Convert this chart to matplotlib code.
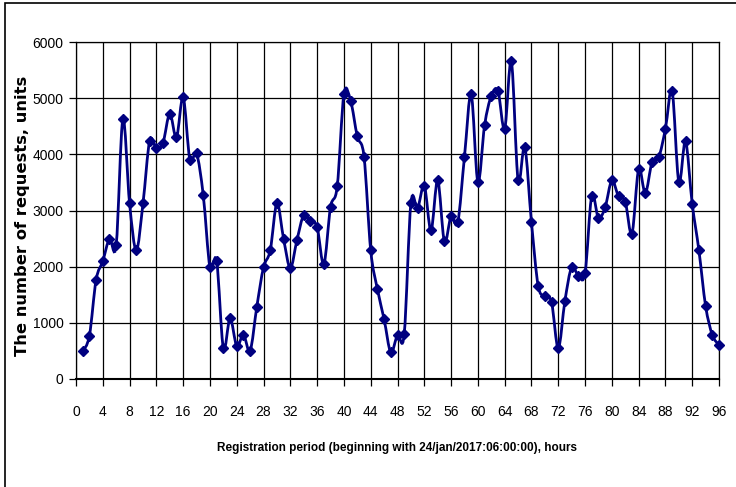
import numpy as np
import matplotlib
matplotlib.use("Agg")
import matplotlib.pyplot as plt
from matplotlib.path import Path
from matplotlib.patches import PathPatch, Rectangle

# hourly request counts (hours 1..96)
hours = list(range(1, 97))
requests = [
    490, 770, 1765, 2100, 2495, 2390, 4630, 3125, 2290, 3125,
    4240, 4110, 4210, 4725, 4300, 5015, 3905, 4015, 3270, 1990,
    2100, 550, 1080, 590, 785, 505, 1290, 1990, 2290, 3130,
    2490, 1975, 2480, 2920, 2815, 2705, 2045, 3060, 3430, 5070,
    4955, 4320, 3960, 2290, 1600, 1065, 475, 785, 800, 3130,
    3045, 3440, 2645, 3535, 2450, 2895, 2790, 3960, 5070, 3505,
    4515, 5040, 5130, 4450, 5655, 3545, 4130, 2790, 1660, 1470,
    1365, 550, 1395, 1990, 1840, 1885, 3265, 2865, 3055, 3535,
    3250, 3160, 2585, 3735, 3310, 3860, 3945, 4455, 5130, 3505,
    4230, 3120, 2290, 1300, 785, 605,
]
x_ticks = list(range(0, 97, 4))
y_ticks = list(range(0, 6001, 1000))

plt.rcParams['font.family'] = ['Liberation Sans', 'DejaVu Sans']

fig = plt.figure(figsize=(7.36, 4.87), dpi=100)
ax = fig.add_axes([76 / 736, 1 - 379 / 487, (719 - 76) / 736, (379 - 42) / 487])

# outer chart border (cut off at the right and bottom like the original)
fig.patches.append(Rectangle((5 / 736, -0.05), 1.1, 1 - 3 / 487 + 0.05,
                             transform=fig.transFigure, fill=False,
                             edgecolor='black', linewidth=1.2))

# smoothed line (Bezier through the points, like a spreadsheet "smoothed line")
pts = np.column_stack([hours, requests]).astype(float)
verts = [pts[0]]
codes = [Path.MOVETO]
n = len(pts)
for i in range(n - 1):
    p0 = pts[max(i - 1, 0)]
    p1 = pts[i]
    p2 = pts[i + 1]
    p3 = pts[min(i + 2, n - 1)]
    verts += [p1 + (p2 - p0) / 6, p2 - (p3 - p1) / 6, p2]
    codes += [Path.CURVE4] * 3
ax.add_patch(PathPatch(Path(verts, codes), facecolor='none',
                       edgecolor='#000080', linewidth=2, zorder=3,
                       clip_on=False))
ax.plot(hours, requests, linestyle='none', marker='D', markersize=5,
        color='#000080', zorder=4, clip_on=False)

ax.set_xlim(0, 96)
ax.set_ylim(0, 6000)
ax.set_xticks(x_ticks)
ax.set_yticks(y_ticks)
ax.grid(True, color='black', linewidth=0.9)
ax.set_axisbelow(True)
for s in ax.spines.values():
    s.set_color('black')
    s.set_linewidth(0.9)
ax.spines['bottom'].set_linewidth(1.5)
ax.tick_params(axis='x', length=5, width=0.9, pad=14, labelsize=10)
ax.tick_params(axis='y', length=5, width=0.9, pad=4, labelsize=10)

ax.set_xlabel("Registration period (beginning with 24/jan/2017:06:00:00), hours",
              fontsize=8.45, fontweight='bold')
ax.xaxis.set_label_coords(0.4988, -0.187)
ax.set_ylabel("The number of requests, units", fontsize=11.8, fontweight='bold',
              family=['DejaVu Sans'])
ax.yaxis.set_label_coords(-0.0715, 0.485)

fig.savefig("out.png", dpi=100)
